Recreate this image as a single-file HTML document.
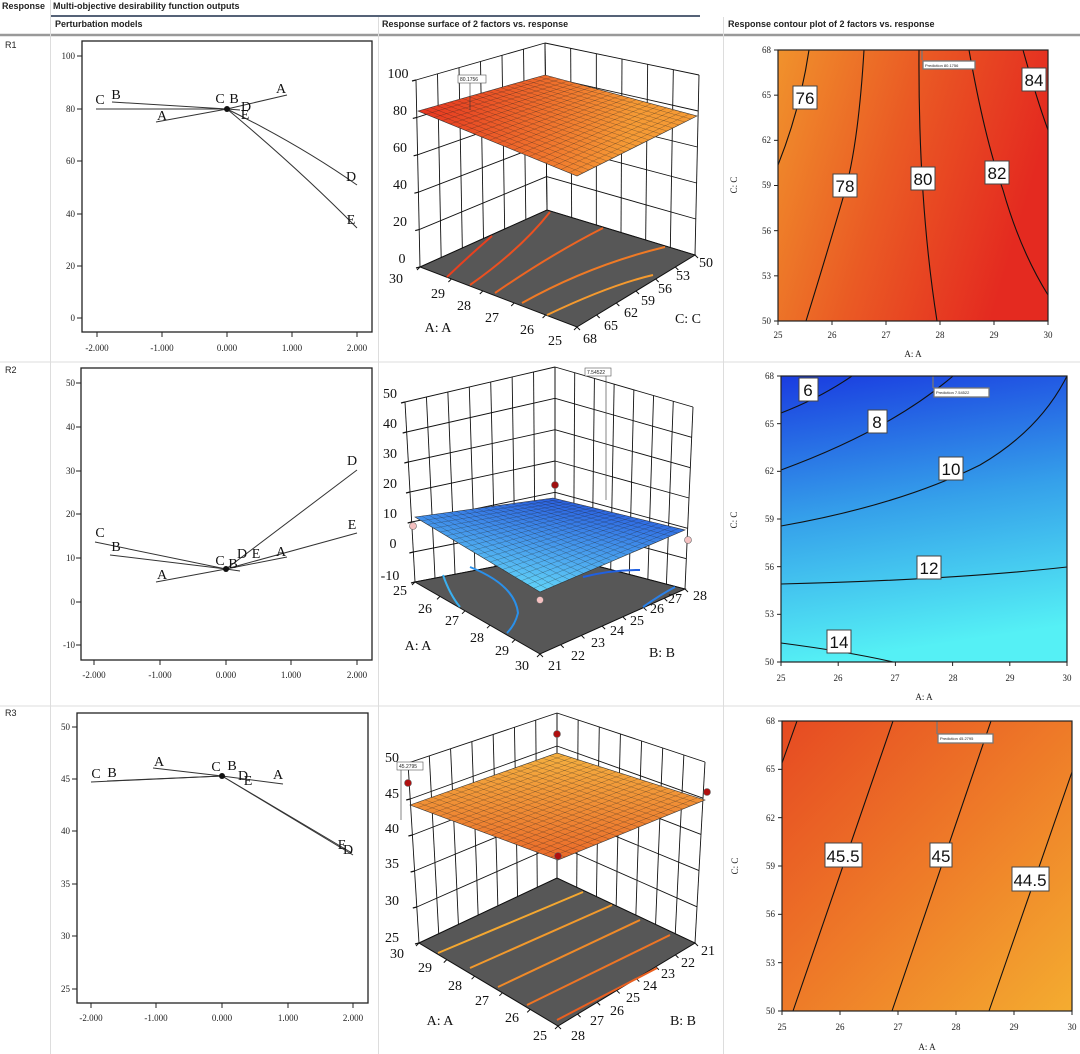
<!DOCTYPE html>
<html><head><meta charset="utf-8"><style>
html,body{margin:0;padding:0;background:#fff;width:1080px;height:1054px;overflow:hidden}
svg{display:block}
.h{font-family:"Liberation Sans Narrow","Liberation Sans",sans-serif;font-size:9px;font-weight:bold;fill:#222}
.t{font-family:"Liberation Serif",serif;font-size:9px;fill:#222}
.s{font-family:"Liberation Serif",serif;font-size:14px;fill:#111}
.l{font-family:"Liberation Serif",serif;font-size:14px;fill:#111}
.c{font-family:"Liberation Sans",sans-serif;font-size:17px;fill:#111}
.p{font-family:"Liberation Sans",sans-serif;font-size:4px;fill:#222}
</style></head><body>
<svg id="sv" width="1080" height="1054" viewBox="0 0 1080 1054" xmlns="http://www.w3.org/2000/svg">
<defs>
<linearGradient id="c1" x1="0" y1="0" x2="1" y2="0.3"><stop offset="0" stop-color="#f0922c"/><stop offset="0.5" stop-color="#ea5a24"/><stop offset="1" stop-color="#e42a20"/></linearGradient>
<linearGradient id="c2" x1="0" y1="0" x2="0.15" y2="1"><stop offset="0" stop-color="#1a3ce0"/><stop offset="0.5" stop-color="#35a0ea"/><stop offset="1" stop-color="#55f0f5"/></linearGradient>
<linearGradient id="c3" x1="0" y1="0" x2="1" y2="1"><stop offset="0" stop-color="#e64a22"/><stop offset="0.5" stop-color="#ee7a28"/><stop offset="1" stop-color="#f4ac30"/></linearGradient>
<linearGradient id="s1" gradientUnits="userSpaceOnUse" x1="418" y1="111" x2="620" y2="170"><stop offset="0" stop-color="#e63520"/><stop offset="1" stop-color="#f59a35"/></linearGradient>
<linearGradient id="s2" gradientUnits="userSpaceOnUse" x1="553" y1="498" x2="540" y2="592"><stop offset="0" stop-color="#2a60e0"/><stop offset="1" stop-color="#62d4f8"/></linearGradient>
<linearGradient id="s3" gradientUnits="userSpaceOnUse" x1="557" y1="753" x2="558" y2="860"><stop offset="0" stop-color="#f5b040"/><stop offset="1" stop-color="#ea6a2a"/></linearGradient>
</defs>

<text class="h" x="2" y="9">Response</text>
<text class="h" x="53" y="9">Multi-objective desirability function outputs</text>
<line x1="50" y1="16" x2="700" y2="16" stroke="#1d2f4a" stroke-width="1.6"/>
<text class="h" x="55" y="27">Perturbation models</text>
<text class="h" x="382" y="27">Response surface of 2 factors vs. response</text>
<text class="h" x="728" y="27">Response contour plot of 2 factors vs. response</text>
<line x1="0" y1="35" x2="1080" y2="35" stroke="#999" stroke-width="2.5"/>
<g stroke="#ddd" stroke-width="1">
<line x1="50.5" y1="0" x2="50.5" y2="1054"/><line x1="378.5" y1="17" x2="378.5" y2="1054"/><line x1="723.5" y1="17" x2="723.5" y2="1054"/>
<line x1="0" y1="362" x2="1080" y2="362"/><line x1="0" y1="706" x2="1080" y2="706"/>
</g>
<text class="h" x="5" y="48" style="font-weight:normal">R1</text>
<text class="h" x="5" y="373" style="font-weight:normal">R2</text>
<text class="h" x="5" y="716" style="font-weight:normal">R3</text>

<g fill="none" stroke="#222" stroke-width="1.3">
<rect x="82" y="41" width="290" height="291"/>
<rect x="81" y="368" width="291" height="292"/>
<rect x="77" y="713" width="291" height="290"/>
</g>
<g id="lt" stroke="#222" stroke-width="1"></g>
<g class="t" text-anchor="end">
<text x="75" y="59">100</text><text x="75" y="112">80</text><text x="75" y="164">60</text><text x="75" y="217">40</text><text x="75" y="269">20</text><text x="75" y="321">0</text>
<text x="75" y="386">50</text><text x="75" y="430">40</text><text x="75" y="474">30</text><text x="75" y="517">20</text><text x="75" y="561">10</text><text x="75" y="605">0</text><text x="75" y="648">-10</text>
<text x="70" y="730">50</text><text x="70" y="782">45</text><text x="70" y="834">40</text><text x="70" y="887">35</text><text x="70" y="939">30</text><text x="70" y="992">25</text>
</g>
<g class="t" text-anchor="middle">
<text x="97" y="351">-2.000</text><text x="162" y="351">-1.000</text><text x="227" y="351">0.000</text><text x="292" y="351">1.000</text><text x="357" y="351">2.000</text>
<text x="94" y="678">-2.000</text><text x="160" y="678">-1.000</text><text x="226" y="678">0.000</text><text x="291" y="678">1.000</text><text x="357" y="678">2.000</text>
<text x="91" y="1021">-2.000</text><text x="156" y="1021">-1.000</text><text x="222" y="1021">0.000</text><text x="288" y="1021">1.000</text><text x="353" y="1021">2.000</text>
</g>
<g fill="none" stroke="#333" stroke-width="1">
<path d="M96 109 L227 109"/><path d="M112 102 L227 109 L240 110"/><path d="M156 122 L227 109 L287 95"/>
<path d="M227 109 Q300 145 357 185"/><path d="M227 109 Q300 170 357 228"/>
<path d="M95 542 L226 569"/><path d="M110 555 L226 569 L240 571"/><path d="M156 582 L226 569 L287 557"/>
<path d="M226 569 L357 470"/><path d="M226 569 L357 533"/>
<path d="M91 782 L222 776"/><path d="M107 781 L222 776"/><path d="M153 768 L222 776 L283 784"/>
<path d="M222 776 L353 855"/><path d="M222 776 L352 853"/>
</g>
<circle cx="227" cy="109" r="3" fill="#111"/><circle cx="226" cy="569" r="3" fill="#111"/><circle cx="222" cy="776" r="3" fill="#111"/>
<g class="s" text-anchor="middle">
<text x="100" y="104">C</text><text x="116" y="99">B</text><text x="162" y="120">A</text><text x="281" y="93">A</text>
<text x="220" y="103">C</text><text x="234" y="103">B</text><text x="246" y="111">D</text><text x="245" y="119">E</text>
<text x="351" y="181">D</text><text x="351" y="224">E</text>
<text x="100" y="537">C</text><text x="116" y="551">B</text><text x="162" y="579">A</text><text x="281" y="556">A</text>
<text x="220" y="565">C</text><text x="233" y="568">B</text><text x="242" y="558">D</text><text x="256" y="558">E</text>
<text x="352" y="465">D</text><text x="352" y="529">E</text>
<text x="96" y="778">C</text><text x="112" y="777">B</text><text x="159" y="766">A</text><text x="278" y="779">A</text>
<text x="216" y="771">C</text><text x="232" y="770">B</text><text x="243" y="780">D</text><text x="248" y="785">E</text>
<text x="342" y="849">E</text><text x="348" y="854">D</text>
</g>

<g id="p3"></g>
<g class="l" text-anchor="middle">
<text x="398" y="78">100</text><text x="400" y="115">80</text><text x="400" y="152">60</text><text x="400" y="189">40</text><text x="400" y="226">20</text><text x="402" y="263">0</text>
<text x="396" y="283">30</text><text x="438" y="298">29</text><text x="464" y="310">28</text><text x="492" y="322">27</text><text x="527" y="334">26</text><text x="555" y="345">25</text>
<text x="438" y="332">A: A</text>
<text x="590" y="343">68</text><text x="611" y="330">65</text><text x="631" y="317">62</text><text x="648" y="305">59</text><text x="665" y="293">56</text><text x="683" y="280">53</text><text x="706" y="267">50</text>
<text x="688" y="323">C: C</text>
<text x="390" y="398">50</text><text x="390" y="428">40</text><text x="390" y="458">30</text><text x="390" y="488">20</text><text x="390" y="518">10</text><text x="393" y="548">0</text><text x="390" y="580">-10</text>
<text x="400" y="595">25</text><text x="425" y="613">26</text><text x="452" y="625">27</text><text x="477" y="642">28</text><text x="502" y="655">29</text><text x="522" y="670">30</text>
<text x="418" y="650">A: A</text>
<text x="555" y="670">21</text><text x="578" y="660">22</text><text x="598" y="647">23</text><text x="617" y="635">24</text><text x="637" y="625">25</text><text x="657" y="613">26</text><text x="675" y="603">27</text><text x="700" y="600">28</text>
<text x="662" y="657">B: B</text>
<text x="392" y="762">50</text><text x="392" y="798">45</text><text x="392" y="833">40</text><text x="392" y="868">35</text><text x="392" y="905">30</text><text x="392" y="942">25</text>
<text x="397" y="958">30</text><text x="425" y="972">29</text><text x="455" y="990">28</text><text x="482" y="1005">27</text><text x="512" y="1022">26</text><text x="540" y="1040">25</text>
<text x="440" y="1025">A: A</text>
<text x="578" y="1040">28</text><text x="597" y="1025">27</text><text x="617" y="1015">26</text><text x="633" y="1002">25</text><text x="650" y="990">24</text><text x="668" y="978">23</text><text x="688" y="967">22</text><text x="708" y="955">21</text>
<text x="683" y="1025">B: B</text>
</g>

<rect x="778" y="50" width="270" height="271" fill="url(#c1)"/>
<rect x="781" y="376" width="286" height="286" fill="url(#c2)"/>
<rect x="782" y="721" width="290" height="290" fill="url(#c3)"/>
<g fill="none" stroke="#111" stroke-width="1.1">
<path d="M809 50 Q800 110 778 165"/>
<path d="M864 50 Q858 150 843 198 Q828 250 806 321"/>
<path d="M919 50 Q918 200 937 321"/>
<path d="M969 50 Q985 140 1003 190 Q1020 250 1048 295"/>
<path d="M1023 50 Q1037 100 1048 130"/>
<path d="M781 413 Q820 398 852 376"/>
<path d="M781 470 Q890 430 953 376"/>
<path d="M781 526 Q900 505 980 465 Q1040 430 1067 376"/>
<path d="M781 584 Q950 580 1067 567"/>
<path d="M781 643 Q850 652 893 662"/>
<path d="M782 763 L797 721"/><path d="M793 1011 L893 721"/><path d="M892 1011 L991 721"/><path d="M989 1011 L1072 772"/>
</g>
<g stroke="#444" stroke-width="1" fill="#fff">
<rect x="793" y="86" width="24" height="23"/><rect x="833" y="174" width="24" height="23"/><rect x="911" y="167" width="24" height="23"/><rect x="985" y="161" width="24" height="23"/><rect x="1022" y="68" width="24" height="23"/>
<rect x="799" y="378" width="19" height="23"/><rect x="868" y="410" width="19" height="23"/><rect x="939" y="457" width="24" height="23"/><rect x="917" y="556" width="24" height="23"/><rect x="827" y="630" width="24" height="23"/>
<rect x="825" y="843" width="37" height="24"/><rect x="930" y="843" width="22" height="24"/><rect x="1012" y="867" width="37" height="24"/>
</g>
<g class="c" text-anchor="middle">
<text x="805" y="104">76</text><text x="845" y="192">78</text><text x="923" y="185">80</text><text x="997" y="179">82</text><text x="1034" y="86">84</text>
<text x="808" y="396">6</text><text x="877" y="428">8</text><text x="951" y="475">10</text><text x="929" y="574">12</text><text x="839" y="648">14</text>
<text x="843" y="862">45.5</text><text x="941" y="862">45</text><text x="1030" y="886">44.5</text>
</g>
<g stroke="#777" stroke-width="1.3" fill="#fff">
<line x1="922" y1="50" x2="922" y2="60"/><rect x="923" y="61" width="52" height="8"/>
<line x1="933" y1="376" x2="933" y2="388"/><rect x="934" y="388" width="55" height="9"/>
<line x1="937" y1="721" x2="937" y2="734"/><rect x="938" y="734" width="55" height="9"/>
</g>
<g class="p"><text x="925" y="67">Prediction 80.1756</text><text x="936" y="394">Prediction 7.54522</text><text x="940" y="740">Prediction 45.2795</text></g>
<g fill="none" stroke="#222" stroke-width="1.2">
<rect x="778" y="50" width="270" height="271"/><rect x="781" y="376" width="286" height="286"/><rect x="782" y="721" width="290" height="290"/>
</g>
<g id="ct" stroke="#222" stroke-width="1"></g>
<g class="t" text-anchor="end">
<text x="771" y="53">68</text><text x="771" y="98">65</text><text x="771" y="143">62</text><text x="771" y="188">59</text><text x="771" y="234">56</text><text x="771" y="279">53</text><text x="771" y="324">50</text>
<text x="774" y="379">68</text><text x="774" y="427">65</text><text x="774" y="474">62</text><text x="774" y="522">59</text><text x="774" y="570">56</text><text x="774" y="617">53</text><text x="774" y="665">50</text>
<text x="775" y="724">68</text><text x="775" y="772">65</text><text x="775" y="821">62</text><text x="775" y="869">59</text><text x="775" y="917">56</text><text x="775" y="966">53</text><text x="775" y="1014">50</text>
</g>
<g class="t" text-anchor="middle">
<text x="778" y="338">25</text><text x="832" y="338">26</text><text x="886" y="338">27</text><text x="940" y="338">28</text><text x="994" y="338">29</text><text x="1048" y="338">30</text>
<text x="781" y="681">25</text><text x="838" y="681">26</text><text x="895" y="681">27</text><text x="953" y="681">28</text><text x="1010" y="681">29</text><text x="1067" y="681">30</text>
<text x="782" y="1030">25</text><text x="840" y="1030">26</text><text x="898" y="1030">27</text><text x="956" y="1030">28</text><text x="1014" y="1030">29</text><text x="1072" y="1030">30</text>
<text x="913" y="357">A: A</text><text x="924" y="700">A: A</text><text x="927" y="1050">A: A</text>
<text transform="translate(737,185) rotate(-90)">C: C</text>
<text transform="translate(737,520) rotate(-90)">C: C</text>
<text transform="translate(738,866) rotate(-90)">C: C</text>
</g>
<text x="460" y="81" style="font-family:'Liberation Sans',sans-serif;font-size:5px;fill:#222">80.1756</text>
<text x="587" y="374" style="font-family:'Liberation Sans',sans-serif;font-size:5px;fill:#222">7.54522</text>
<text x="399" y="768" style="font-family:'Liberation Sans',sans-serif;font-size:5px;fill:#222">45.2795</text>
</svg>
<script>
(function(){
var NS="http://www.w3.org/2000/svg";
function el(p,tag,a){var e=document.createElementNS(NS,tag);for(var k in a)e.setAttribute(k,a[k]);p.appendChild(e);return e;}
function lp(a,b,t){return [a[0]+(b[0]-a[0])*t,a[1]+(b[1]-a[1])*t];}
function ln(p,a,b,s,w,o){el(p,"line",{x1:a[0],y1:a[1],x2:b[0],y2:b[1],stroke:s||"#111","stroke-width":w||1,"stroke-opacity":o==null?1:o});}
var lt=document.getElementById("lt");
function ticks(x0,ys,xb,xs){ys.forEach(function(y){ln(lt,[x0-5,y],[x0,y],"#222");});xs.forEach(function(x){ln(lt,[x,xb],[x,xb+5],"#222");});}
ticks(82,[56,109,161,214,266,318],332,[97,162,227,292,357]);
ticks(81,[383,427,471,514,558,602,645],660,[94,160,226,291,357]);
ticks(77,[727,779,831,884,936,989],1003,[91,156,222,288,353]);
var ct=document.getElementById("ct");
function cticks(x0,x1,y0,y1){for(var i=0;i<=6;i++){var y=y0+(y1-y0)*i/6;ln(ct,[x0-4,y],[x0,y],"#222");}for(var j=0;j<=5;j++){var x=x0+(x1-x0)*j/5;ln(ct,[x,y1],[x,y1+4],"#222");}}
cticks(778,1048,50,321);cticks(781,1067,376,662);cticks(782,1072,721,1011);
var g=document.getElementById("p3");
function plot(o){
 var L=o.L,K=o.K,R=o.R,F=o.F,Lt=o.Lt,Kt=o.Kt,Rt=o.Rt,nz=o.nz;
 for(var i=0;i<=nz;i++){var t=i/nz;var a=lp(L,Lt,t),b=lp(K,Kt,t),c=lp(R,Rt,t);ln(g,a,b,"#111",0.9);ln(g,b,c,"#111",0.9);ln(g,[a[0]-4,a[1]+1],a,"#111",1.2);}
 for(var j=0;j<=o.nA;j++){var t2=j/o.nA;ln(g,lp(L,K,t2),lp(Lt,Kt,t2),"#111",0.9);}
 for(var j2=0;j2<=o.nB;j2++){var t3=j2/o.nB;ln(g,lp(K,R,t3),lp(Kt,Rt,t3),"#111",0.9);}
 el(g,"polygon",{points:[L,K,R,F].join(" "),fill:"#575757",stroke:"#111","stroke-width":1});
 for(var a1=0;a1<=5;a1++){var p=lp(L,F,a1/5);ln(g,p,[p[0]-3,p[1]+3],"#111");}
 for(var b1=0;b1<=o.nF;b1++){var q=lp(F,R,b1/o.nF);ln(g,q,[q[0]+3,q[1]+3],"#111");}
 o.cont.forEach(function(c){el(g,"path",{d:c[0],fill:"none",stroke:c[1],"stroke-width":2});});
 var S=o.S;
 el(g,"polygon",{points:S.join(" "),fill:o.fill,stroke:"#333","stroke-width":0.6});
 var n=20;for(var k=1;k<n;k++){var tt=k/n;ln(g,lp(S[0],S[1],tt),lp(S[3],S[2],tt),"#222",0.5,0.45);ln(g,lp(S[0],S[3],tt),lp(S[1],S[2],tt),"#222",0.5,0.45);}
}
plot({L:[420,267],K:[547,210],R:[695,255],F:[577,327],Lt:[416,80],Kt:[545,43],Rt:[699,75],nz:5,nA:6,nB:6,nF:6,
 S:[[418,111],[545,75],[697,116],[577,176]],fill:"url(#s1)",
 cont:[["M447 277 Q470 255 492 236","#e8401f"],["M470 285 Q520 250 550 212","#ec5020"],["M495 293 Q550 255 603 228","#ee6522"],["M522 303 Q590 265 665 247","#f07a25"],["M547 315 Q610 285 653 275","#f59a2e"]]});
plot({L:[415,582],K:[555,555],R:[685,589],F:[540,654],Lt:[405,402],Kt:[555,367],Rt:[693,407],nz:6,nA:7,nB:7,nF:7,
 S:[[415,517],[553,498],[685,530],[540,592]],fill:"url(#s2)",
 cont:[["M443 575 Q450 595 460 607","#3ab0f0"],["M470 567 Q515 585 518 613 Q515 625 507 633","#2a90ea"],["M583 577 Q610 570 640 570","#2060e0"],["M643 607 Q660 595 675 587","#2a80e8"]]});
plot({L:[419,943],K:[557,878],R:[695,943],F:[558,1026],Lt:[408,763],Kt:[557,713],Rt:[705,762],nz:5,nA:7,nB:7,nF:7,
 S:[[410,805],[557,753],[705,800],[558,860]],fill:"url(#s3)",
 cont:[["M438 953 L583 892","#f5a830"],["M470 968 L612 905","#f39a2c"],["M498 987 L640 920","#f08a28"],["M527 1005 L670 935","#ee7525"],["M557 1020 L657 968","#ea6020"]]});
function dot(x,y,c){el(g,"circle",{cx:x,cy:y,r:3.5,fill:c,stroke:"#666","stroke-width":0.6});}
dot(413,526,"#f4c0c0");dot(540,600,"#f4c0c0");dot(688,540,"#f4c0c0");dot(555,485,"#a01010");
dot(408,783,"#b01010");dot(557,734,"#b01010");dot(707,792,"#b01010");dot(558,856,"#b01010");
function pbox(x,y,w,lx,ly1){ln(g,[lx,ly1],[lx,y+8],"#333",0.6);el(g,"rect",{x:x,y:y,width:w,height:8,fill:"#fff",stroke:"#555","stroke-width":0.6});}
pbox(458,75,28,470,110);pbox(585,368,26,606,500);pbox(397,762,26,401,820);
var sv=document.getElementById("sv");var ts=sv.querySelectorAll("text");
for(var i=ts.length-3;i<ts.length;i++){sv.appendChild(ts[i]);}
})();
</script>
</body></html>
